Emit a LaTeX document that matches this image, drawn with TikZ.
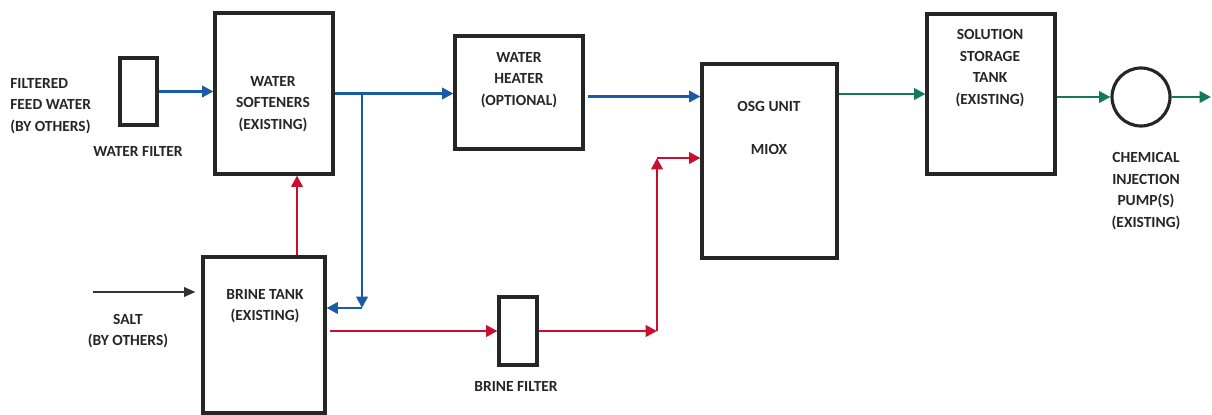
\documentclass[tikz,border=0pt]{standalone}
\usepackage{fontspec}
\setmainfont{Carlito}
\usepackage{xcolor}
\usepackage{tikz}
\usetikzlibrary{positioning, shapes, arrows.meta, calc}
\definecolor{waterblue}{HTML}{1A5BA8}
\definecolor{brinered}{HTML}{C8102E}
\definecolor{solgreen}{HTML}{13795B}
\tikzstyle{unit} = [rectangle, draw=black!85, line width=1.8pt, inner sep=0pt]
\tikzstyle{flow} = [line width=1.5pt, -{Triangle[length=6.5pt, width=6.5pt]}]

\begin{document}
\begin{tikzpicture}[x=0.02cm, y=-0.02cm,
    tag/.style={font=\fontsize{8.8}{12.2}\selectfont\bfseries, text=black!85, align=center, inner sep=0pt},
    pump/.style={circle, draw=black!85, line width=1.8pt, minimum size=1.16cm, inner sep=0pt}]
    \useasboundingbox (0,0) rectangle (1212,415);

    % Units
    \node[unit, minimum width=0.74cm, minimum height=1.34cm] (filter) at (138.5,91.5) {};
    \node[unit, minimum width=2.36cm, minimum height=3.22cm] (soft) at (274,93.5) {};
    \node[unit, minimum width=2.44cm, minimum height=3.12cm] (brine) at (264,335) {};
    \node[unit, minimum width=2.56cm, minimum height=2.26cm] (heater) at (519,92.5) {};
    \node[unit, minimum width=0.76cm, minimum height=1.36cm] (bfilter) at (518,331) {};
    \node[unit, minimum width=2.70cm, minimum height=3.88cm] (osg) at (769.5,161) {};
    \node[unit, minimum width=2.56cm, minimum height=3.20cm] (tank) at (991,94) {};
    \node[pump] (pumpc) at (1141,97) {};

    % Texts
    \node[tag, anchor=west, align=left] (feed) at (10,106) {FILTERED\\FEED WATER\\(BY OTHERS)};
    \node[tag] (filtertxt) at (138,151) {WATER FILTER};
    \node[tag] (softtxt) at (273,104) {WATER\\SOFTENERS\\(EXISTING)};
    \node[tag] (brinetxt) at (265,306) {BRINE TANK\\(EXISTING)};
    \node[tag] (salt) at (128,331) {SALT\\(BY OTHERS)};
    \node[tag] (heatertxt) at (519,80) {WATER\\HEATER\\(OPTIONAL)};
    \node[tag] (bfiltertxt) at (516,386) {BRINE FILTER};
    \node[tag] (osgtxt) at (769,128) {OSG UNIT\\[0.42cm]MIOX};
    \node[tag] (tanktxt) at (990,68) {SOLUTION\\STORAGE\\TANK\\(EXISTING)};
    \node[tag] (pumptxt) at (1146,191) {CHEMICAL\\INJECTION\\PUMP(S)\\(EXISTING)};

    % Free ends and bends
    \coordinate (saltin) at (93,292);
    \coordinate (tee) at (362,94);
    \coordinate (bend) at (362,308);
    \coordinate (rb) at (657,331);
    \coordinate (rt) at (657,158);
    \coordinate (out) at (1211,97);

    % Water lines
    \draw[flow, waterblue] (filter.east) -- (filter.east -| soft.west);
    \draw[flow, waterblue] (soft.east) -- (soft.east -| heater.west);
    \draw[flow, waterblue] (tee) -- (bend);
    \draw[flow, waterblue] (bend) -- (bend -| brine.east);
    \draw[flow, waterblue] ([xshift=0.06cm, yshift=-0.08cm]heater.east) -- ([yshift=-0.08cm]heater.east -| osg.west);

    % Brine lines
    \draw[flow, brinered] ([xshift=0.66cm]brine.north) -- ([xshift=0.66cm]brine.north |- soft.south);
    \draw[flow, brinered] ([xshift=0.06cm]bfilter.west -| brine.east) -- (bfilter.west);
    \draw[flow, brinered] (bfilter.east) -- (rb);
    \draw[flow, brinered] (rb) -- (rt);
    \draw[flow, brinered] (rt) -- (rt -| osg.west);

    % Salt feed
    \draw[line width=0.9pt, black!80, -{Triangle[length=6.5pt, width=5.5pt]}, shorten >=0.12cm] (saltin) -- (saltin -| brine.west);

    % Solution lines
    \draw[flow, solgreen] (tank.west -| osg.east) -- (tank.west);
    \draw[flow, solgreen] (pumpc.west -| tank.east) -- (pumpc.west);
    \draw[flow, solgreen] (pumpc.east) -- (out);

\end{tikzpicture}
\end{document}
